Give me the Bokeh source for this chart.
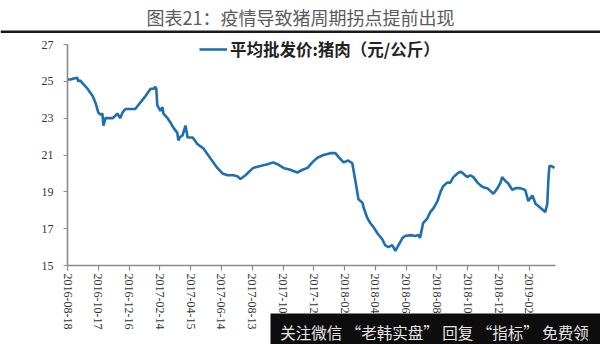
import numpy as np
from bokeh.plotting import figure
from bokeh.models import (Range1d, FixedTicker, Legend, LegendItem, Label, BoxAnnotation,
                          LinearAxis)
from bokeh.embed import file_html
from bokeh.resources import INLINE

# ---- data ----
start_date = "2016-08-18"   # day 0
days = [0, 6, 12, 19, 21, 25, 29, 39, 49, 55, 60, 64, 68, 70, 74, 78, 88, 94, 97, 103,
        107, 113, 123, 132, 142, 152, 162, 168, 171, 173, 175, 181, 185, 187, 195, 201,
        206, 214, 216, 220, 224, 230, 234, 244, 253, 265, 279, 292, 302, 312, 323, 331,
        337, 347, 356, 362, 376, 390, 401, 409, 421, 434, 448, 458, 468, 477, 487, 499,
        512, 522, 528, 538, 547, 555, 561, 567, 575, 577, 584, 590, 596, 604, 614, 619,
        625, 633, 639, 645, 653, 658, 668, 678, 684, 687, 693, 701, 707, 713, 721, 727,
        732, 740, 746, 752, 760, 766, 771, 779, 785, 791, 799, 805, 810, 818, 830, 838,
        844, 847, 853, 859, 867, 873, 882, 892, 898, 906, 912, 921, 931, 935, 937, 939,
        943, 949]
price = [25.1, 25.1, 25.15, 25.2, 25.0, 25.05, 24.9, 24.6, 24.2, 23.8, 23.3, 23.2, 23.25,
         22.6, 23.0, 23.0, 23.0, 23.15, 23.25, 23.0, 23.3, 23.5, 23.5, 23.5, 23.85, 24.2,
         24.6, 24.6, 24.7, 24.6, 23.7, 23.4, 23.6, 23.25, 23.0, 22.75, 22.5, 22.2, 21.8,
         22.0, 22.05, 22.6, 21.95, 21.95, 21.6, 21.35, 20.8, 20.3, 20.0, 19.9, 19.9, 19.85,
         19.7, 19.9, 20.15, 20.3, 20.4, 20.5, 20.6, 20.5, 20.3, 20.2, 20.05, 20.2, 20.3,
         20.6, 20.85, 21.0, 21.1, 21.1, 20.9, 20.6, 20.7, 20.55, 19.6, 18.6, 18.4, 18.15,
         17.6, 17.3, 17.1, 16.75, 16.4, 16.1, 16.0, 16.1, 15.8, 16.1, 16.5, 16.6, 16.65,
         16.6, 16.65, 16.5, 17.3, 17.55, 17.9, 18.1, 18.5, 19.0, 19.3, 19.5, 19.5, 19.8,
         20.0, 20.1, 20.0, 19.8, 19.9, 19.8, 19.5, 19.35, 19.25, 19.2, 18.9, 19.2, 19.5,
         19.8, 19.6, 19.45, 19.1, 19.2, 19.2, 19.1, 18.5, 18.8, 18.35, 18.15, 17.9, 18.35,
         19.6, 20.4, 20.4, 20.3, 20.15]
tick_days = [0, 60, 120, 180, 240, 300, 360, 420, 480, 540, 600, 660, 720, 780, 840, 900]
tick_labels = ["2016-08-18", "2016-10-17", "2016-12-16", "2017-02-14", "2017-04-15",
               "2017-06-14", "2017-08-13", "2017-10-12", "2017-12-11", "2018-02-09",
               "2018-04-10", "2018-06-09", "2018-08-08", "2018-10-07", "2018-12-06",
               "2019-02-04"]
y_ticks = [15, 17, 19, 21, 23, 25, 27]
series_name = "平均批发价:猪肉（元/公斤）"
title_text = "图表21：疫情导致猪周期拐点提前出现"
watermark_text = "关注微信 “老韩实盘” 回复 “指标” 免费领"

LINE = "#1f6eae"
SERIF = "Liberation Serif"
CJK = "Noto Sans CJK SC"

W, H = 600, 344
# plot area (axes) in page pixels
AX_L, AX_R, AX_T, AX_B = 67, 555, 44, 265
X0, X1 = 0, 951
Y0, Y1 = 15, 27
xs = (X1 - X0) / (AX_R - AX_L)
ys = (Y1 - Y0) / (AX_B - AX_T)

p = figure(width=W, height=H, output_backend="svg", toolbar_location=None,
           x_axis_location=None, y_axis_location=None,
           x_range=Range1d(X0 - AX_L * xs, X1 + (W - AX_R) * xs),
           y_range=Range1d(Y0 - (H - AX_B) * ys, Y1 + AX_T * ys),
           min_border=0)
p.background_fill_color = "white"
p.border_fill_color = "white"
p.outline_line_color = None
p.grid.visible = False

r = p.line(days, price, line_color=LINE, line_width=2.6)

xaxis = LinearAxis(fixed_location=Y0, bounds=(X0, X1))
yaxis = LinearAxis(fixed_location=X0, bounds=(Y0, Y1))
p.add_layout(xaxis, "below")
p.add_layout(yaxis, "left")

for ax in (xaxis, yaxis):
    ax.axis_line_color = "#8a8a8a"
    ax.axis_line_width = 1.6
    ax.major_tick_line_color = "#8a8a8a"
    ax.major_tick_line_width = 1.2
    ax.minor_tick_line_color = None
    ax.major_tick_in = 0
    ax.major_label_text_font = SERIF
    ax.major_label_text_color = "#333333"
    ax.major_label_text_font_size = "12px"

yaxis.ticker = FixedTicker(ticks=y_ticks)
yaxis.major_tick_out = 4
yaxis.major_label_standoff = 10

xaxis.ticker = FixedTicker(ticks=tick_days)
xaxis.major_label_overrides = {d: s for d, s in zip(tick_days, tick_labels)}
xaxis.major_label_orientation = "vertical"
xaxis.major_tick_out = 5
xaxis.major_label_standoff = 3

# legend
legend = Legend(items=[LegendItem(label=series_name, renderers=[r])],
                location=(199, H - 61), orientation="horizontal",
                glyph_width=28, glyph_height=16, label_height=16, label_standoff=3,
                padding=0, margin=0, spacing=0,
                border_line_color=None, background_fill_alpha=0,
                label_text_font=CJK, label_text_font_size="16.5px",
                label_text_font_style="bold", label_text_color="#222222")
p.add_layout(legend)

# title and rule
p.add_layout(Label(x=W / 2, y=H - 16, x_units="screen", y_units="screen", text=title_text,
                   text_align="center", text_baseline="middle", text_font=CJK,
                   text_font_size="18px", text_color="#5a5a5a"))
p.add_layout(BoxAnnotation(left=0, right=W, top=H - 30, bottom=H - 32.5,
                           left_units="screen", right_units="screen",
                           top_units="screen", bottom_units="screen",
                           fill_color="#1a1a1a", fill_alpha=1, line_color=None))

# watermark banner
p.add_layout(BoxAnnotation(left=270, right=W, top=H - 313, bottom=0,
                           left_units="screen", right_units="screen",
                           top_units="screen", bottom_units="screen",
                           fill_color="#0d0d0d", fill_alpha=1, line_color=None))
p.add_layout(Label(x=434, y=H - 331, x_units="screen", y_units="screen", text=watermark_text,
                   text_align="center", text_baseline="middle", text_font=CJK,
                   text_font_size="15.5px", text_color="#e6e6e6"))

open("out.html", "w").write(file_html(p, INLINE))
